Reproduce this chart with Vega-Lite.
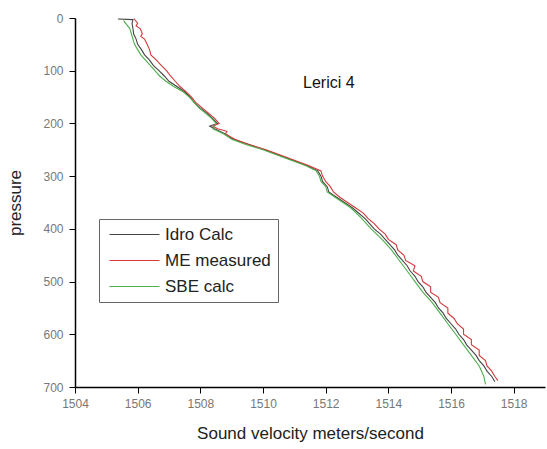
{
  "$schema": "https://vega.github.io/schema/vega-lite/v6.json",
  "width": 470,
  "height": 369,
  "autosize": {"type": "none"},
  "padding": {"left": 75, "top": 18, "right": 2, "bottom": 62},
  "background": "white",
  "config": {
    "view": {"stroke": null},
    "font": "Liberation Sans"
  },
  "datasets": {
    "profiles": [
      {"s":"Idro Calc","p":2,"v":1505.37},{"s":"Idro Calc","p":3,"v":1505.85},{"s":"Idro Calc","p":10,"v":1505.82},{"s":"Idro Calc","p":20,"v":1505.85},{"s":"Idro Calc","p":30,"v":1505.87},{"s":"Idro Calc","p":40,"v":1505.95},{"s":"Idro Calc","p":50,"v":1506.0},{"s":"Idro Calc","p":60,"v":1506.12},{"s":"Idro Calc","p":70,"v":1506.22},{"s":"Idro Calc","p":80,"v":1506.38},{"s":"Idro Calc","p":90,"v":1506.5},{"s":"Idro Calc","p":100,"v":1506.68},{"s":"Idro Calc","p":110,"v":1506.85},{"s":"Idro Calc","p":120,"v":1507.0},{"s":"Idro Calc","p":130,"v":1507.25},{"s":"Idro Calc","p":140,"v":1507.5},{"s":"Idro Calc","p":150,"v":1507.68},{"s":"Idro Calc","p":160,"v":1507.8},{"s":"Idro Calc","p":170,"v":1507.98},{"s":"Idro Calc","p":180,"v":1508.2},{"s":"Idro Calc","p":190,"v":1508.38},{"s":"Idro Calc","p":200,"v":1508.55},{"s":"Idro Calc","p":205,"v":1508.3},{"s":"Idro Calc","p":210,"v":1508.45},{"s":"Idro Calc","p":220,"v":1508.8},{"s":"Idro Calc","p":230,"v":1509.05},{"s":"Idro Calc","p":240,"v":1509.55},{"s":"Idro Calc","p":250,"v":1510.05},{"s":"Idro Calc","p":260,"v":1510.5},{"s":"Idro Calc","p":270,"v":1510.95},{"s":"Idro Calc","p":280,"v":1511.4},{"s":"Idro Calc","p":290,"v":1511.75},{"s":"Idro Calc","p":300,"v":1511.85},{"s":"Idro Calc","p":310,"v":1511.9},{"s":"Idro Calc","p":320,"v":1512.05},{"s":"Idro Calc","p":330,"v":1512.1},{"s":"Idro Calc","p":340,"v":1512.35},{"s":"Idro Calc","p":350,"v":1512.6},{"s":"Idro Calc","p":360,"v":1512.85},{"s":"Idro Calc","p":370,"v":1513.05},{"s":"Idro Calc","p":380,"v":1513.25},{"s":"Idro Calc","p":390,"v":1513.4},{"s":"Idro Calc","p":400,"v":1513.55},{"s":"Idro Calc","p":410,"v":1513.75},{"s":"Idro Calc","p":420,"v":1513.9},{"s":"Idro Calc","p":430,"v":1514.05},{"s":"Idro Calc","p":440,"v":1514.2},{"s":"Idro Calc","p":450,"v":1514.3},{"s":"Idro Calc","p":460,"v":1514.45},{"s":"Idro Calc","p":470,"v":1514.6},{"s":"Idro Calc","p":480,"v":1514.7},{"s":"Idro Calc","p":490,"v":1514.85},{"s":"Idro Calc","p":500,"v":1514.95},{"s":"Idro Calc","p":510,"v":1515.1},{"s":"Idro Calc","p":520,"v":1515.2},{"s":"Idro Calc","p":530,"v":1515.35},{"s":"Idro Calc","p":540,"v":1515.5},{"s":"Idro Calc","p":550,"v":1515.6},{"s":"Idro Calc","p":560,"v":1515.75},{"s":"Idro Calc","p":570,"v":1515.85},{"s":"Idro Calc","p":580,"v":1516.0},{"s":"Idro Calc","p":590,"v":1516.15},{"s":"Idro Calc","p":600,"v":1516.25},{"s":"Idro Calc","p":610,"v":1516.4},{"s":"Idro Calc","p":620,"v":1516.5},{"s":"Idro Calc","p":630,"v":1516.65},{"s":"Idro Calc","p":640,"v":1516.8},{"s":"Idro Calc","p":650,"v":1516.9},{"s":"Idro Calc","p":660,"v":1517.05},{"s":"Idro Calc","p":670,"v":1517.15},{"s":"Idro Calc","p":680,"v":1517.3},{"s":"Idro Calc","p":690,"v":1517.4},
      {"s":"ME measured","p":1,"v":1505.88},{"s":"ME measured","p":10,"v":1506.0},{"s":"ME measured","p":15,"v":1505.95},{"s":"ME measured","p":20,"v":1506.08},{"s":"ME measured","p":30,"v":1506.15},{"s":"ME measured","p":35,"v":1506.1},{"s":"ME measured","p":40,"v":1506.22},{"s":"ME measured","p":50,"v":1506.3},{"s":"ME measured","p":60,"v":1506.38},{"s":"ME measured","p":70,"v":1506.42},{"s":"ME measured","p":80,"v":1506.6},{"s":"ME measured","p":90,"v":1506.75},{"s":"ME measured","p":100,"v":1506.92},{"s":"ME measured","p":110,"v":1507.05},{"s":"ME measured","p":120,"v":1507.2},{"s":"ME measured","p":130,"v":1507.35},{"s":"ME measured","p":140,"v":1507.55},{"s":"ME measured","p":150,"v":1507.72},{"s":"ME measured","p":160,"v":1507.85},{"s":"ME measured","p":170,"v":1508.05},{"s":"ME measured","p":180,"v":1508.25},{"s":"ME measured","p":190,"v":1508.45},{"s":"ME measured","p":200,"v":1508.6},{"s":"ME measured","p":205,"v":1508.4},{"s":"ME measured","p":210,"v":1508.55},{"s":"ME measured","p":215,"v":1508.85},{"s":"ME measured","p":220,"v":1508.8},{"s":"ME measured","p":230,"v":1509.1},{"s":"ME measured","p":240,"v":1509.55},{"s":"ME measured","p":250,"v":1510.1},{"s":"ME measured","p":260,"v":1510.55},{"s":"ME measured","p":270,"v":1511.0},{"s":"ME measured","p":280,"v":1511.45},{"s":"ME measured","p":290,"v":1511.85},{"s":"ME measured","p":300,"v":1511.9},{"s":"ME measured","p":310,"v":1512.0},{"s":"ME measured","p":320,"v":1512.15},{"s":"ME measured","p":330,"v":1512.25},{"s":"ME measured","p":340,"v":1512.45},{"s":"ME measured","p":350,"v":1512.7},{"s":"ME measured","p":360,"v":1512.95},{"s":"ME measured","p":370,"v":1513.2},{"s":"ME measured","p":380,"v":1513.35},{"s":"ME measured","p":390,"v":1513.55},{"s":"ME measured","p":400,"v":1513.7},{"s":"ME measured","p":410,"v":1513.9},{"s":"ME measured","p":420,"v":1514.0},{"s":"ME measured","p":430,"v":1514.25},{"s":"ME measured","p":440,"v":1514.3},{"s":"ME measured","p":450,"v":1514.5},{"s":"ME measured","p":460,"v":1514.55},{"s":"ME measured","p":470,"v":1514.85},{"s":"ME measured","p":480,"v":1514.8},{"s":"ME measured","p":490,"v":1515.05},{"s":"ME measured","p":500,"v":1515.1},{"s":"ME measured","p":510,"v":1515.35},{"s":"ME measured","p":520,"v":1515.35},{"s":"ME measured","p":530,"v":1515.6},{"s":"ME measured","p":540,"v":1515.65},{"s":"ME measured","p":550,"v":1515.9},{"s":"ME measured","p":560,"v":1515.9},{"s":"ME measured","p":570,"v":1516.1},{"s":"ME measured","p":580,"v":1516.2},{"s":"ME measured","p":590,"v":1516.4},{"s":"ME measured","p":600,"v":1516.4},{"s":"ME measured","p":610,"v":1516.65},{"s":"ME measured","p":620,"v":1516.65},{"s":"ME measured","p":630,"v":1516.9},{"s":"ME measured","p":640,"v":1516.9},{"s":"ME measured","p":650,"v":1517.1},{"s":"ME measured","p":660,"v":1517.15},{"s":"ME measured","p":670,"v":1517.3},{"s":"ME measured","p":680,"v":1517.4},{"s":"ME measured","p":688,"v":1517.5},
      {"s":"SBE calc","p":5,"v":1505.55},{"s":"SBE calc","p":20,"v":1505.75},{"s":"SBE calc","p":40,"v":1505.85},{"s":"SBE calc","p":50,"v":1505.9},{"s":"SBE calc","p":60,"v":1506.0},{"s":"SBE calc","p":70,"v":1506.1},{"s":"SBE calc","p":80,"v":1506.25},{"s":"SBE calc","p":90,"v":1506.4},{"s":"SBE calc","p":100,"v":1506.55},{"s":"SBE calc","p":110,"v":1506.7},{"s":"SBE calc","p":120,"v":1506.9},{"s":"SBE calc","p":130,"v":1507.15},{"s":"SBE calc","p":140,"v":1507.45},{"s":"SBE calc","p":150,"v":1507.65},{"s":"SBE calc","p":160,"v":1507.8},{"s":"SBE calc","p":170,"v":1507.95},{"s":"SBE calc","p":180,"v":1508.15},{"s":"SBE calc","p":190,"v":1508.35},{"s":"SBE calc","p":200,"v":1508.5},{"s":"SBE calc","p":210,"v":1508.4},{"s":"SBE calc","p":220,"v":1508.75},{"s":"SBE calc","p":230,"v":1509.0},{"s":"SBE calc","p":240,"v":1509.45},{"s":"SBE calc","p":250,"v":1510.0},{"s":"SBE calc","p":260,"v":1510.45},{"s":"SBE calc","p":270,"v":1510.9},{"s":"SBE calc","p":280,"v":1511.35},{"s":"SBE calc","p":290,"v":1511.7},{"s":"SBE calc","p":300,"v":1511.8},{"s":"SBE calc","p":310,"v":1511.85},{"s":"SBE calc","p":320,"v":1512.0},{"s":"SBE calc","p":330,"v":1512.05},{"s":"SBE calc","p":340,"v":1512.3},{"s":"SBE calc","p":350,"v":1512.55},{"s":"SBE calc","p":360,"v":1512.8},{"s":"SBE calc","p":380,"v":1513.15},{"s":"SBE calc","p":400,"v":1513.45},{"s":"SBE calc","p":420,"v":1513.8},{"s":"SBE calc","p":440,"v":1514.1},{"s":"SBE calc","p":460,"v":1514.35},{"s":"SBE calc","p":480,"v":1514.6},{"s":"SBE calc","p":500,"v":1514.85},{"s":"SBE calc","p":520,"v":1515.1},{"s":"SBE calc","p":540,"v":1515.4},{"s":"SBE calc","p":560,"v":1515.65},{"s":"SBE calc","p":580,"v":1515.9},{"s":"SBE calc","p":600,"v":1516.15},{"s":"SBE calc","p":620,"v":1516.4},{"s":"SBE calc","p":640,"v":1516.65},{"s":"SBE calc","p":660,"v":1516.9},{"s":"SBE calc","p":680,"v":1517.05},{"s":"SBE calc","p":695,"v":1517.1}
    ],
    "label": [{"t": "Lerici 4", "v": 1512.1, "p": 124}]
  },
  "layer": [
    {
      "data": {"name": "profiles"},
      "mark": {"type": "line", "strokeWidth": 1.1, "interpolate": "linear"},
      "encoding": {
        "x": {
          "field": "v", "type": "quantitative",
          "scale": {"domain": [1504, 1519], "nice": false, "zero": false},
          "axis": {
            "title": "Sound velocity meters/second",
            "values": [1504,1505,1506,1507,1508,1509,1510,1511,1512,1513,1514,1515,1516,1517,1518,1519],
            "labelExpr": "datum.value % 2 == 0 ? datum.value : ''",
            "grid": false,
            "domainColor": "#000", "domainWidth": 1.5,
            "tickColor": "#000", "tickWidth": 1,
            "tickSize": {"condition": {"test": "datum.value % 2 == 0", "value": 6}, "value": 4},
            "labelColor": "#777", "labelFontSize": 12, "labelPadding": 5,
            "labelFlush": false,
            "titleFontSize": 17, "titleFontWeight": "normal", "titleColor": "#222", "titlePadding": 16
          }
        },
        "y": {
          "field": "p", "type": "quantitative",
          "scale": {"domain": [0, 700], "reverse": true, "nice": false},
          "axis": {
            "title": "pressure",
            "values": [0,50,100,150,200,250,300,350,400,450,500,550,600,650,700],
            "labelExpr": "datum.value % 100 == 0 ? datum.value : ''",
            "grid": false,
            "domainColor": "#000", "domainWidth": 1.5,
            "tickColor": "#000", "tickWidth": 1,
            "tickSize": {"condition": {"test": "datum.value % 100 == 0", "value": 6}, "value": 4},
            "labelColor": "#777", "labelFontSize": 12, "labelPadding": 6,
            "labelFlush": false,
            "titleFontSize": 17, "titleFontWeight": "normal", "titleColor": "#222", "titlePadding": 18
          }
        },
        "color": {
          "field": "s", "type": "nominal",
          "scale": {"domain": ["Idro Calc", "ME measured", "SBE calc"], "range": ["#444444", "#d23a3a", "#4caf4c"]},
          "legend": {
            "title": null,
            "orient": "none",
            "legendX": 24,
            "legendY": 201,
            "direction": "vertical",
            "symbolType": "M-1,0H9",
            "symbolSize": 100,
            "symbolStrokeWidth": 1,
            "labelFontSize": 17,
            "labelColor": "#222",
            "labelOffset": 42,
            "labelLimit": 300,
            "rowPadding": 8,
            "strokeColor": "#666",
            "fillColor": "white",
            "padding": 7
          }
        },
        "order": {"field": "p", "type": "quantitative"}
      }
    },
    {
      "data": {"name": "label"},
      "mark": {"type": "text", "fontSize": 16, "color": "#111", "align": "center", "baseline": "middle"},
      "encoding": {
        "x": {"field": "v", "type": "quantitative"},
        "y": {"field": "p", "type": "quantitative"},
        "text": {"field": "t"}
      }
    }
  ]
}
